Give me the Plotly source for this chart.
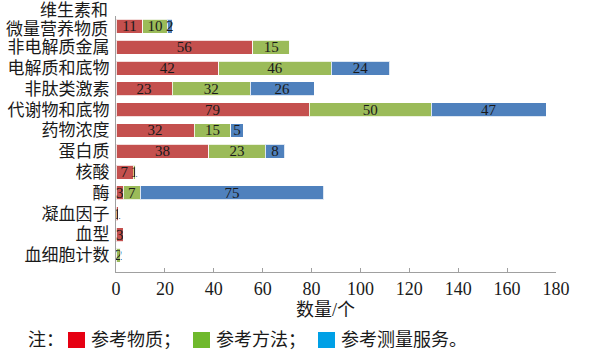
import plotly.graph_objects as go

categories = ["维生素和微量营养物质", "非电解质金属", "电解质和底物", "非肽类激素", "代谢物和底物",
              "药物浓度", "蛋白质", "核酸", "酶", "凝血因子", "血型", "血细胞计数"]
ref_material = [11, 56, 42, 23, 79, 32, 38, 7, 3, 1, 3, 0]
ref_method = [10, 15, 46, 32, 50, 15, 23, 1, 7, 0, 0, 2]
ref_service = [2, 0, 24, 26, 47, 5, 8, 0, 75, 0, 0, 0]
x_ticks = [0, 20, 40, 60, 80, 100, 120, 140, 160, 180]
legend_names = ["参考物质", "参考方法", "参考测量服务"]
legend_colors = ["#e60012", "#6fb92c", "#00a0e6"]

FONT = "Liberation Serif, Noto Sans CJK SC, serif"
TXT = "#1a1a1a"
series = [
    (legend_names[0], ref_material, "#c4504e"),
    (legend_names[1], ref_method, "#9bbb59"),
    (legend_names[2], ref_service, "#4f81bd"),
]

W, H = 591, 358
# plot area in pixels: left 116, right 556, top 16, bottom 272
L, R, T, B = 116, 556, 16, 272
def px(x):
    return (x - L) / (R - L)
def py(y):
    return (B - y) / (B - T)

fig = go.Figure()
for name, vals, color in series:
    fig.add_trace(go.Bar(
        y=categories, x=vals, name=name, orientation="h",
        marker=dict(color=color, line=dict(color="rgba(255,255,255,0.8)", width=1)),
        text=[str(v) if v else "" for v in vals],
        textposition="inside", insidetextanchor="middle", textangle=0,
        constraintext="none",
        textfont=dict(family=FONT, size=15, color=TXT),
        showlegend=False,
    ))

ticktext = [""] + categories[1:]

annotations = [
    dict(xref="paper", yref="y", x=px(110), y=categories[0], yshift=16,
         xanchor="right", yanchor="middle", showarrow=False,
         text="维生素和", font=dict(family=FONT, size=17, color=TXT)),
    dict(xref="paper", yref="y", x=px(110), y=categories[0], yshift=-3,
         xanchor="right", yanchor="middle", showarrow=False,
         text="微量营养物质", font=dict(family=FONT, size=17, color=TXT)),
    dict(xref="paper", yref="paper", x=px(325), y=py(310),
         xanchor="center", yanchor="middle", showarrow=False,
         text="数量/个", font=dict(family=FONT, size=18, color=TXT)),
    dict(xref="paper", yref="paper", x=px(26), y=py(340),
         xanchor="left", yanchor="middle", showarrow=False,
         text="注：", font=dict(family=FONT, size=18, color=TXT)),
]
shapes = []
sq_x = [68, 193, 318]
txt_after = ["；", "；", "。"]
for i in range(3):
    shapes.append(dict(type="rect", xref="paper", yref="paper",
                       x0=px(sq_x[i]), x1=px(sq_x[i] + 17), y0=py(348), y1=py(332),
                       fillcolor=legend_colors[i], line=dict(width=0)))
    annotations.append(dict(xref="paper", yref="paper", x=px(sq_x[i] + 21), y=py(340),
                            xanchor="left", yanchor="middle", showarrow=False,
                            text=legend_names[i] + txt_after[i],
                            font=dict(family=FONT, size=18, color=TXT)))

fig.update_layout(
    barmode="stack", bargap=0.33,
    width=W, height=H,
    margin=dict(l=L, r=W - R, t=T, b=H - B),
    paper_bgcolor="white", plot_bgcolor="white",
    font=dict(family=FONT, size=15, color=TXT),
    xaxis=dict(range=[0, 180], tickvals=x_ticks, showgrid=False, zeroline=False,
               showline=True, linecolor="#a0a0a0", linewidth=1,
               ticks="inside", tickcolor="#a0a0a0", ticklen=4,
               automargin=False,
               tickfont=dict(family=FONT, size=18, color=TXT)),
    yaxis=dict(categoryorder="array", categoryarray=categories, range=[11.8, -0.5],
               tickvals=categories, ticktext=ticktext,
               showgrid=False, showline=True, linecolor="#a0a0a0", linewidth=1,
               ticks="", ticklabelstandoff=2, automargin=False,
               tickfont=dict(family=FONT, size=17, color=TXT)),
    annotations=annotations,
    shapes=shapes,
)

fig.write_html("out.html", config={"displayModeBar": False},
               post_script="document.body.style.margin='0';document.body.style.overflow='hidden';")
